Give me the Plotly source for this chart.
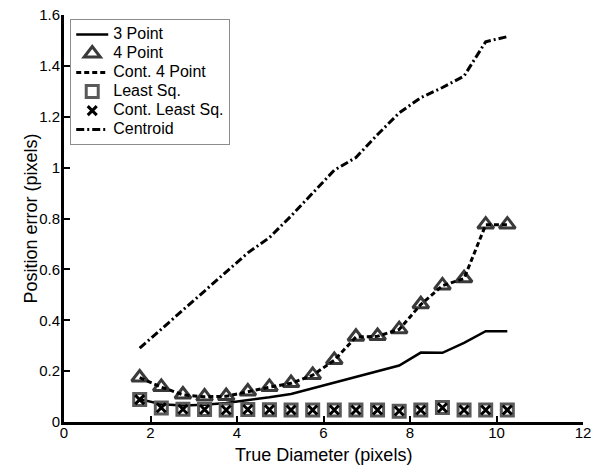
import plotly.graph_objects as go

# True diameter of the imaged spot (pixels)
diameter = [1.75, 2.25, 2.75, 3.25, 3.75, 4.25, 4.75, 5.25, 5.75,
            6.25, 6.75, 7.25, 7.75, 8.25, 8.75, 9.25, 9.75, 10.25]

# Position error (pixels) for each estimator
three_point = [0.090, 0.070, 0.065, 0.068, 0.075, 0.085, 0.097, 0.110, 0.132,
               0.157, 0.179, 0.198, 0.222, 0.273, 0.272, 0.311, 0.357, 0.357]
four_point = [0.175, 0.138, 0.108, 0.100, 0.102, 0.120, 0.138, 0.153, 0.185,
              0.244, 0.335, 0.338, 0.365, 0.463, 0.537, 0.565, 0.776, 0.776]
cont_four_point = [0.174, 0.137, 0.107, 0.099, 0.101, 0.119, 0.137, 0.152, 0.184,
                   0.243, 0.334, 0.337, 0.364, 0.462, 0.536, 0.564, 0.775, 0.775]
least_sq = [0.088, 0.055, 0.050, 0.049, 0.047, 0.049, 0.048, 0.047, 0.047,
            0.047, 0.047, 0.047, 0.042, 0.047, 0.057, 0.047, 0.047, 0.047]
cont_least_sq = [0.088, 0.056, 0.050, 0.049, 0.047, 0.049, 0.048, 0.047, 0.047,
                 0.047, 0.047, 0.047, 0.043, 0.047, 0.056, 0.047, 0.047, 0.047]
centroid = [0.290, 0.365, 0.440, 0.515, 0.590, 0.665, 0.725, 0.810, 0.900,
            0.990, 1.040, 1.130, 1.215, 1.275, 1.315, 1.360, 1.495, 1.515]

x_ticks = [0, 2, 4, 6, 8, 10, 12]
y_ticks = [0, 0.2, 0.4, 0.6, 0.8, 1.0, 1.2, 1.4, 1.6]
y_tick_text = ["0", "0.2", "0.4", "0.6", "0.8", "1", "1.2", "1.4", "1.6"]

FONT = "Liberation Sans, Arial, sans-serif"


def legend_label(text):
    # larger glyphs than the legend's own row font, keeping rows compact
    return f"<span style='font-size:16px'>{text}</span>"


fig = go.Figure()

fig.add_trace(go.Scatter(
    x=diameter, y=three_point, name=legend_label("3 Point"), mode="lines",
    line=dict(color="black", width=2.5)))

fig.add_trace(go.Scatter(
    x=diameter, y=four_point, name=legend_label("4 Point"), mode="markers",
    marker=dict(symbol="triangle-up-open", size=14, color="#3a3a3a",
                line=dict(width=3, color="#3a3a3a"))))

fig.add_trace(go.Scatter(
    x=diameter, y=cont_four_point, name=legend_label("Cont. 4 Point"), mode="lines",
    line=dict(color="black", width=3, dash="5px,3px")))

fig.add_trace(go.Scatter(
    x=diameter, y=least_sq, name=legend_label("Least Sq."), mode="markers",
    marker=dict(symbol="square-open", size=12, color="#5a5a5a",
                line=dict(width=3, color="#5a5a5a"))))

fig.add_trace(go.Scatter(
    x=diameter, y=cont_least_sq, name=legend_label("Cont. Least Sq."), mode="markers",
    marker=dict(symbol="x-thin", size=9, color="black",
                line=dict(width=3, color="black"))))

fig.add_trace(go.Scatter(
    x=diameter, y=centroid, name=legend_label("Centroid"), mode="lines",
    line=dict(color="black", width=3, dash="8px,3px,2px,3px")))

axis_common = dict(
    showgrid=False, zeroline=False, showline=True, linecolor="black",
    linewidth=3, mirror=False, ticks="inside", ticklen=6, tickwidth=2,
    tickcolor="black", tickfont=dict(family=FONT, size=15, color="black"),
    automargin=False,
)

fig.update_xaxes(range=[0, 12], tickvals=x_ticks,
                 ticktext=[str(v) for v in x_ticks],
                 ticklabelstandoff=-5, **axis_common)
fig.update_yaxes(range=[0, 1.6], tickvals=y_ticks, ticktext=y_tick_text,
                 ticklabelstandoff=-2, **axis_common)

title_font = dict(family=FONT, size=18, color="black")
fig.add_annotation(text="True Diameter (pixels)", xref="paper", yref="paper",
                   x=0.5, y=0, yshift=-33, xanchor="center", yanchor="middle",
                   showarrow=False, font=title_font)
fig.add_annotation(text="Position error (pixels)", xref="paper", yref="paper",
                   x=0, y=0.5, xshift=-34, xanchor="center", yanchor="middle",
                   textangle=-90, showarrow=False, font=title_font)

fig.update_layout(
    width=607, height=468,
    margin=dict(l=64, r=24, t=15, b=46),
    paper_bgcolor="white", plot_bgcolor="white",
    font=dict(family=FONT, color="black"),
    legend=dict(
        x=0.012, y=0.99, xanchor="left", yanchor="top",
        bgcolor="white", bordercolor="#8c8c8c", borderwidth=1,
        font=dict(family=FONT, size=11, color="black"),
        itemwidth=32, tracegroupgap=0),
)

fig.write_html("out.html")
